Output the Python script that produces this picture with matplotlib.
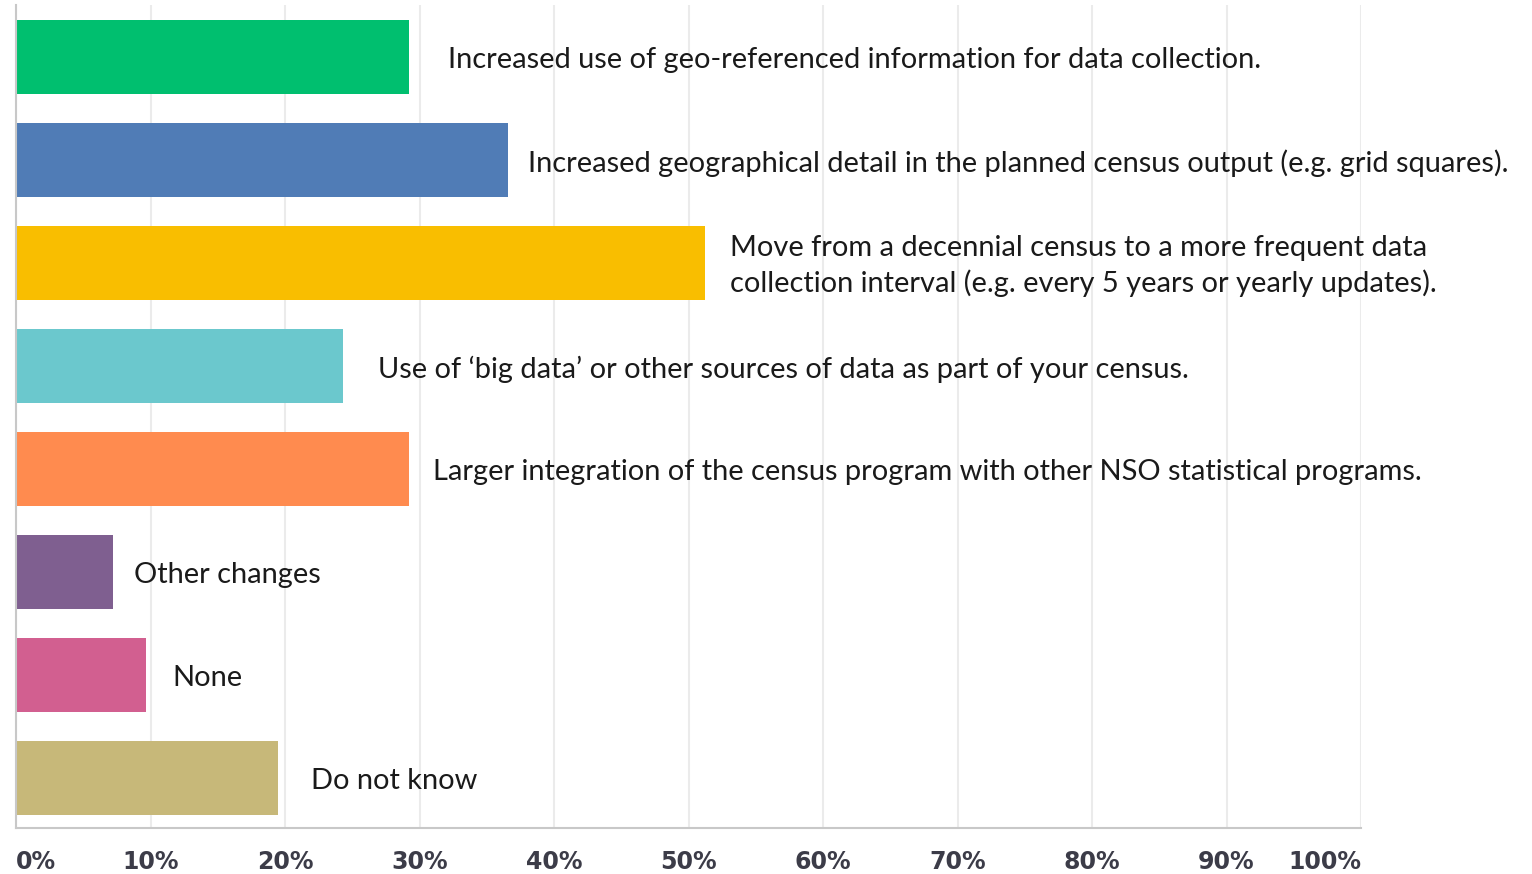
import matplotlib
matplotlib.use('Agg')
import matplotlib.pyplot as plt

# survey answers, top to bottom
labels = [
    'Increased use of geo-referenced information for data collection.',
    'Increased geographical detail in the planned census output (e.g. grid squares).',
    'Move from a decennial census to a more frequent data\ncollection interval (e.g. every 5 years or yearly updates).',
    'Use of \u2018big data\u2019 or other sources of data as part of your census.',
    'Larger integration of the census program with other NSO statistical programs.',
    'Other changes',
    'None',
    'Do not know',
]
values = [29.2, 36.6, 51.2, 24.3, 29.2, 7.2, 9.7, 19.5]
colors = ['#00BF6F', '#507CB6', '#F9BE00', '#6BC8CD', '#FF8B4F', '#7F5F90', '#D25F90', '#C7B879']
# gap between bar end and its label, in percent units
label_gap = [2.9, 1.5, 1.9, 2.6, 1.8, 1.6, 1.9, 2.4]
ticks = list(range(0, 101, 10))
tick_labels = [f'{t}%' for t in ticks]

fig = plt.figure(figsize=(15.32, 8.74), dpi=100)
ax = fig.add_axes([16 / 1532, 1 - 828 / 874, (1361 - 16) / 1532, (828 - 5) / 874])

ypos = list(range(len(values)))
ax.barh(ypos, values, height=0.72, color=colors, zorder=2)

for y, v, lab, g in zip(ypos, values, labels, label_gap):
    ax.text(v + g, y + 0.03, lab, va='center', ha='left', fontsize=20.9,
            family='Lato', color='#1a1a1a', linespacing=1.4, zorder=3)

ax.set_xlim(0, 100)
ax.set_ylim(7.485, -0.505)
ax.set_yticks([])
ax.set_xticks(ticks)
ax.set_xticklabels(tick_labels, fontsize=17, fontweight='bold', color='#3c3c48')
tl = ax.get_xticklabels()
tl[0].set_ha('left')
tl[-1].set_ha('right')
ax.tick_params(axis='x', length=0, pad=16)
ax.grid(axis='x', color='#ebebeb', linewidth=1.5, zorder=0)

for s in ['top', 'right']:
    ax.spines[s].set_visible(False)
ax.spines['left'].set_color('#c8c8c8')
ax.spines['bottom'].set_color('#c8c8c8')
ax.spines['left'].set_linewidth(1.5)
ax.spines['bottom'].set_linewidth(1.5)

fig.savefig('out.png', dpi=100)
